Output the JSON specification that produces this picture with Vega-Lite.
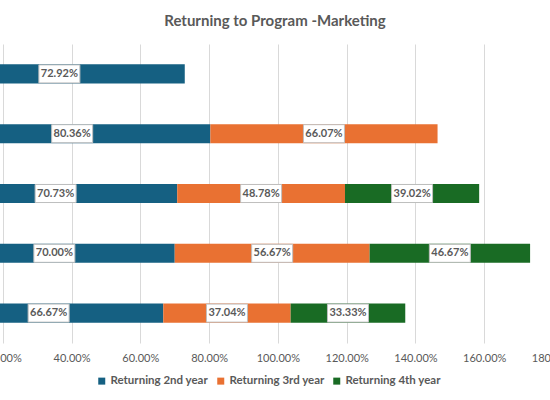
{
  "$schema": "https://vega.github.io/schema/vega-lite/v6.json",
  "background": "white",
  "autosize": {"type": "none"},
  "padding": {"left": 0, "top": 44, "right": 0, "bottom": 57},
  "width": 550,
  "height": 299,
  "title": {
    "text": "Returning to Program -Marketing",
    "font": "Lato",
    "fontSize": 15,
    "fontWeight": "bold",
    "color": "#595959",
    "anchor": "middle",
    "offset": 15
  },
  "config": {
    "view": {"stroke": null},
    "font": "Lato"
  },
  "data": {
    "values": [
      {"cohort": "2024", "series": "Returning 2nd year", "order": 1, "value": 0.7292},
      {"cohort": "2023", "series": "Returning 2nd year", "order": 1, "value": 0.8036},
      {"cohort": "2023", "series": "Returning 3rd year", "order": 2, "value": 0.6607},
      {"cohort": "2022", "series": "Returning 2nd year", "order": 1, "value": 0.7073},
      {"cohort": "2022", "series": "Returning 3rd year", "order": 2, "value": 0.4878},
      {"cohort": "2022", "series": "Returning 4th year", "order": 3, "value": 0.3902},
      {"cohort": "2021", "series": "Returning 2nd year", "order": 1, "value": 0.7000},
      {"cohort": "2021", "series": "Returning 3rd year", "order": 2, "value": 0.5667},
      {"cohort": "2021", "series": "Returning 4th year", "order": 3, "value": 0.4667},
      {"cohort": "2020", "series": "Returning 2nd year", "order": 1, "value": 0.6667},
      {"cohort": "2020", "series": "Returning 3rd year", "order": 2, "value": 0.3704},
      {"cohort": "2020", "series": "Returning 4th year", "order": 3, "value": 0.3333}
    ]
  },
  "transform": [
    {"stack": "value", "groupby": ["cohort"], "sort": [{"field": "order"}], "as": ["x0", "x1"]},
    {"calculate": "(datum.x0 + datum.x1) / 2", "as": "mid"}
  ],
  "encoding": {
    "y": {
      "field": "cohort",
      "type": "nominal",
      "sort": "descending",
      "scale": {"paddingInner": 0.68, "paddingOuter": 0.34},
      "axis": null
    }
  },
  "layer": [
    {
      "mark": {"type": "bar", "clip": true},
      "encoding": {
        "x": {
          "field": "x0",
          "type": "quantitative",
          "scale": {"domain": [0, 1.8], "range": [-66, 553], "nice": false, "zero": false},
          "axis": {
            "title": null,
            "values": [0, 0.2, 0.4, 0.6, 0.8, 1.0, 1.2, 1.4, 1.6, 1.8],
            "format": ".2%",
            "labelFlush": false,
            "labelOverlap": false,
            "domain": false,
            "ticks": false,
            "grid": true,
            "gridColor": "#d9d9d9",
            "gridWidth": 1,
            "labelColor": "#595959",
            "labelFont": "Lato",
            "labelFontSize": 11,
            "labelPadding": 9
          }
        },
        "x2": {"field": "x1"},
        "color": {
          "field": "series",
          "type": "nominal",
          "scale": {
            "domain": ["Returning 2nd year", "Returning 3rd year", "Returning 4th year"],
            "range": ["#156082", "#e97132", "#196b24"]
          },
          "legend": {
            "title": null,
            "orient": "none",
            "direction": "horizontal",
            "legendX": 96,
            "legendY": 331,
            "padding": 0,
            "symbolType": "square",
            "symbolSize": 49,
            "symbolStrokeWidth": 0,
            "symbolOpacity": 1,
            "labelFont": "Lato",
            "labelFontSize": 11.5,
            "labelFontWeight": "bold",
            "labelColor": "#595959",
            "labelOffset": 3,
            "columnPadding": 6
          }
        }
      }
    },
    {
      "mark": {
        "type": "point",
        "shape": "M-1,-0.44H1V0.44H-1Z",
        "size": 1681,
        "filled": true,
        "fill": "white",
        "stroke": "#bfbfbf",
        "strokeWidth": 1,
        "opacity": 1
      },
      "encoding": {
        "x": {"field": "mid", "type": "quantitative"}
      }
    },
    {
      "mark": {
        "type": "text",
        "font": "Lato",
        "fontSize": 11,
        "fontWeight": "bold",
        "color": "#595959"
      },
      "encoding": {
        "x": {"field": "mid", "type": "quantitative"},
        "text": {"field": "value", "type": "quantitative", "format": ".2%"}
      }
    }
  ]
}
